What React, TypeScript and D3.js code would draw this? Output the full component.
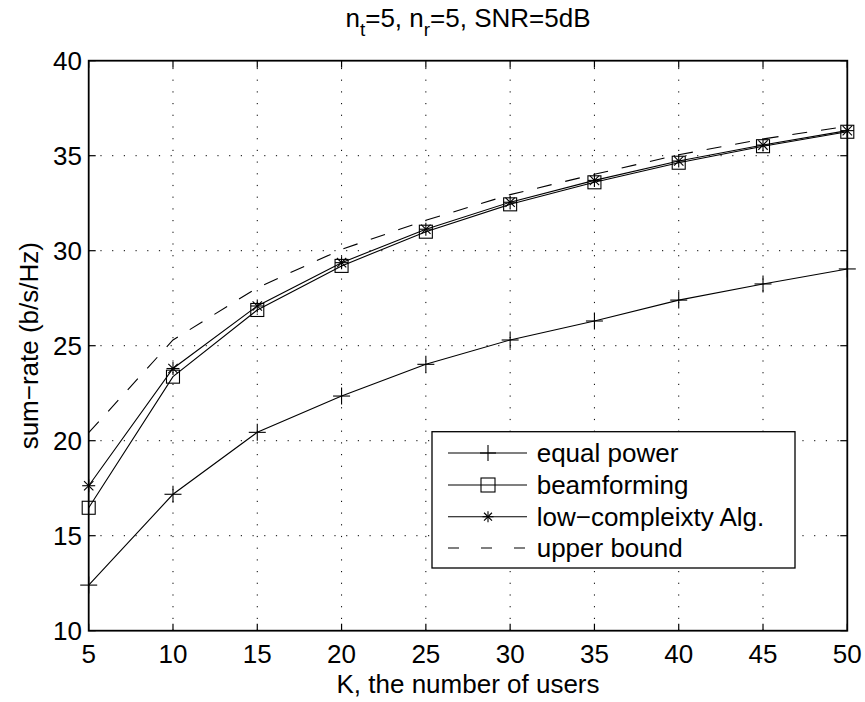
import React from "react";
import * as d3 from "d3";

const K = [5, 10, 15, 20, 25, 30, 35, 40, 45, 50];
const equalPower = [12.4, 17.18, 20.44, 22.35, 24.02, 25.3, 26.3, 27.4, 28.25, 29.04];
const beamforming = [16.47, 23.37, 26.88, 29.2, 31.0, 32.44, 33.6, 34.63, 35.5, 36.26];
const lowComplexity = [17.63, 23.8, 27.09, 29.37, 31.13, 32.55, 33.7, 34.72, 35.56, 36.32];
const upperBound = [20.42, 25.3, 28.05, 30.07, 31.6, 32.95, 34.02, 35.05, 35.88, 36.55];
const xTicks = [5, 10, 15, 20, 25, 30, 35, 40, 45, 50];
const yTicks = [10, 15, 20, 25, 30, 35, 40];
const legendLabels = ["equal power", "beamforming", "low\u2212compleixty Alg.", "upper bound"];

const W = 865;
const H = 702;
const L = 88.7, R = 847.3, T = 60.7, B = 630.7;
const FONT = "'Liberation Sans', Arial, Helvetica, sans-serif";
const FS = 26;

function Plus({ x, y, s }: { x: number; y: number; s: number }) {
  return (
    <g stroke="#000" strokeWidth={1.1}>
      <line x1={x - s} x2={x + s} y1={y} y2={y} />
      <line x1={x} x2={x} y1={y - s} y2={y + s} />
    </g>
  );
}
function Square({ x, y, s }: { x: number; y: number; s: number }) {
  return <rect x={x - s} y={y - s} width={2 * s} height={2 * s} fill="none" stroke="#000" strokeWidth={1.1} />;
}
function Star({ x, y, s }: { x: number; y: number; s: number }) {
  const d = s * 0.72;
  return (
    <g stroke="#000" strokeWidth={1.1}>
      <line x1={x - s} x2={x + s} y1={y} y2={y} />
      <line x1={x} x2={x} y1={y - s} y2={y + s} />
      <line x1={x - d} x2={x + d} y1={y - d} y2={y + d} />
      <line x1={x - d} x2={x + d} y1={y + d} y2={y - d} />
    </g>
  );
}

export default function App() {
  const x = d3.scaleLinear().domain([5, 50]).range([L, R]);
  const y = d3.scaleLinear().domain([10, 40]).range([B, T]);
  const line = d3
    .line<number>()
    .x((_, i) => x(K[i]))
    .y((v) => y(v));

  const legendX = 432, legendY = 431.7, legendW = 363, legendH = 136.3;
  const rows = [453, 485, 516.7, 548];

  return (
    <svg
      width={W}
      height={H}
      viewBox={`0 0 ${W} ${H}`}
      style={{ position: "absolute", left: 0, top: 0, background: "#fff" }}
      fontFamily={FONT}
    >
      <rect x={0} y={0} width={W} height={H} fill="#fff" />
      {/* grid */}
      <g stroke="#000" strokeWidth={1} strokeDasharray="1.2,10.5">
        {xTicks.slice(1, -1).map((t) => (
          <line key={"gx" + t} x1={x(t)} x2={x(t)} y1={B} y2={T} />
        ))}
        {yTicks.slice(1, -1).map((t) => (
          <line key={"gy" + t} x1={L} x2={R} y1={y(t)} y2={y(t)} />
        ))}
      </g>
      {/* data lines */}
      <g fill="none" stroke="#000" strokeWidth={1.1}>
        <path d={line(equalPower) || ""} />
        <path d={line(beamforming) || ""} />
        <path d={line(lowComplexity) || ""} />
        <path d={line(upperBound) || ""} strokeDasharray="15,14" />
      </g>
      {/* markers */}
      {equalPower.map((v, i) => (
        <Plus key={"p" + i} x={x(K[i])} y={y(v)} s={8.5} />
      ))}
      {beamforming.map((v, i) => (
        <Square key={"s" + i} x={x(K[i])} y={y(v)} s={6.5} />
      ))}
      {lowComplexity.map((v, i) => (
        <Star key={"a" + i} x={x(K[i])} y={y(v)} s={6.5} />
      ))}
      {/* ticks */}
      <g stroke="#000" strokeWidth={1.2}>
        {xTicks.map((t) => (
          <g key={"tx" + t}>
            <line x1={x(t)} x2={x(t)} y1={B} y2={B - 7} />
            <line x1={x(t)} x2={x(t)} y1={T} y2={T + 7} />
          </g>
        ))}
        {yTicks.map((t) => (
          <g key={"ty" + t}>
            <line x1={L} x2={L + 7} y1={y(t)} y2={y(t)} />
            <line x1={R} x2={R - 7} y1={y(t)} y2={y(t)} />
          </g>
        ))}
      </g>
      {/* box */}
      <rect x={L} y={T} width={R - L} height={B - T} fill="none" stroke="#000" strokeWidth={1.8} />
      {/* tick labels */}
      <g fontSize={FS} fill="#000">
        {xTicks.map((t) => (
          <text key={"lx" + t} x={x(t)} y={663} textAnchor="middle">
            {t}
          </text>
        ))}
        {yTicks.map((t) => (
          <text key={"ly" + t} x={82} y={y(t) + 9} textAnchor="end">
            {t}
          </text>
        ))}
      </g>
      {/* axis labels */}
      <text x={(L + R) / 2} y={693} textAnchor="middle" fontSize={FS}>
        K, the number of users
      </text>
      <text
        transform={`translate(38,${(T + B) / 2}) rotate(-90)`}
        textAnchor="middle"
        fontSize={FS}
      >
        sum{"\u2212"}rate (b/s/Hz)
      </text>
      {/* title */}
      <text x={(L + R) / 2} y={27} textAnchor="middle" fontSize={FS}>
        <tspan>n</tspan>
        <tspan dy={9} fontSize={19}>t</tspan>
        <tspan dy={-9}>=5, n</tspan>
        <tspan dy={9} fontSize={19}>r</tspan>
        <tspan dy={-9}>=5, SNR=5dB</tspan>
      </text>
      {/* legend */}
      <rect x={legendX} y={legendY} width={legendW} height={legendH} fill="#fff" stroke="#000" strokeWidth={1.3} />
      {legendLabels.map((lab, i) => (
        <g key={"lg" + i}>
          <line
            x1={448}
            x2={527}
            y1={rows[i]}
            y2={rows[i]}
            stroke="#000"
            strokeWidth={1.1}
            strokeDasharray={i === 3 ? "11,22" : undefined}
          />
          {i === 0 && <Plus x={488} y={rows[i]} s={8} />}
          {i === 1 && <Square x={488} y={rows[i]} s={7} />}
          {i === 2 && <Star x={488} y={rows[i]} s={5.5} />}
          <text x={536.7} y={rows[i] + 9} fontSize={FS}>
            {lab}
          </text>
        </g>
      ))}
    </svg>
  );
}
